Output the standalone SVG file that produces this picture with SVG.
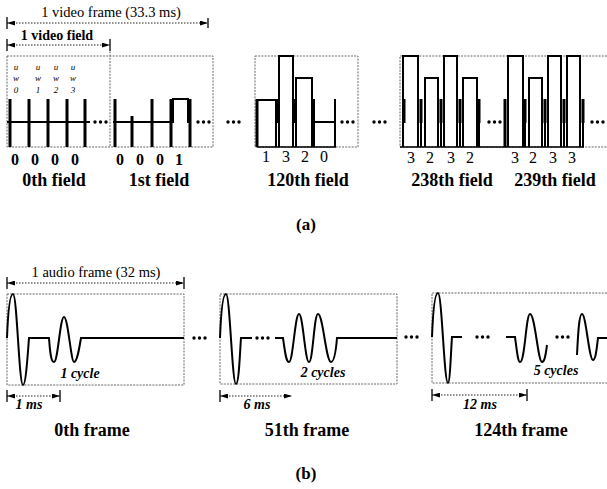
<svg xmlns="http://www.w3.org/2000/svg" xmlns:xlink="http://www.w3.org/1999/xlink" width="607" height="489" viewBox="0 0 607 489">
<style>
.dim{stroke:#222;stroke-width:1;stroke-dasharray:1.5 1.5;fill:none}
.tick{stroke:#000;stroke-width:1.3}
.frame{stroke:#666;stroke-width:1;stroke-dasharray:2 1.2;fill:none}
.wave{stroke:#000;stroke-width:2;fill:none}
.bar{stroke:#000;stroke-width:3}
.base{stroke:#000;stroke-width:1.6}
.t{font-family:"Liberation Serif","Times New Roman",serif;text-anchor:middle;fill:#000}
.lbl{font-weight:bold;font-size:18px}
.dig{font-size:16px}
.digb{font-size:16px;font-weight:bold}
.cap{font-size:14.5px}
.it{font-weight:bold;font-style:italic;font-size:14px}
.sm{font-style:italic;font-size:9px}
</style>
<defs>
<marker id="ah" viewBox="0 0 10 6" refX="10" refY="3" markerWidth="8" markerHeight="5" markerUnits="userSpaceOnUse" orient="auto-start-reverse"><path d="M0,0 L10,3 L0,6z" fill="#000"/></marker>
<g id="dots"><circle cx="0" cy="0" r="1.7"/><circle cx="5.5" cy="0" r="1.7"/><circle cx="11" cy="0" r="1.7"/></g>
</defs>
<rect width="607" height="489" fill="#fff"/>

<!-- ===== (a) video ===== -->
<g id="video-dimensions">
<text class="t cap" x="111" y="17">1 video frame (33.3 ms)</text>
<line class="dim" x1="7" y1="23" x2="208" y2="23" marker-start="url(#ah)" marker-end="url(#ah)"/>
<line class="tick" x1="7" y1="17" x2="7" y2="29"/>
<line class="tick" x1="208" y1="18" x2="208" y2="28"/>
<text class="t" x="57" y="40" font-size="14px" font-weight="bold">1 video field</text>
<line class="dim" x1="7" y1="45" x2="110" y2="45" marker-start="url(#ah)" marker-end="url(#ah)"/>
<line class="tick" x1="7" y1="39" x2="7" y2="51"/>
<line class="tick" x1="110" y1="39" x2="110" y2="51"/>
</g>

<g id="video-frame-1">
<rect class="frame" x="7" y="56" width="206" height="91"/>
<line class="frame" x1="110" y1="45" x2="110" y2="147"/>
</g>

<g id="field-0">
<g class="t sm">
<text x="16" y="70">u</text><text x="38" y="70">u</text><text x="56" y="70">u</text><text x="73" y="70">u</text>
<text x="16" y="81">w</text><text x="38" y="81">w</text><text x="56" y="81">w</text><text x="73" y="81">w</text>
<text x="16" y="93">0</text><text x="38" y="93">1</text><text x="56" y="93">2</text><text x="73" y="93">3</text>
</g>
<line class="wave" x1="7" y1="122" x2="90" y2="122"/>
<line class="bar" x1="10" y1="99" x2="10" y2="147"/>
<line class="bar" x1="29" y1="99" x2="29" y2="147"/>
<line class="bar" x1="48" y1="99" x2="48" y2="147"/>
<line class="bar" x1="67" y1="99" x2="67" y2="147"/>
<line class="bar" x1="85" y1="99" x2="85" y2="147"/>
<use xlink:href="#dots" x="95" y="122"/>
<g class="t digb"><text x="15" y="165">0</text><text x="35" y="165">0</text><text x="55" y="165">0</text><text x="75" y="165">0</text></g>
<text class="t lbl" x="54" y="186">0th field</text>
</g>

<g id="field-1">
<path class="wave" d="M113,122 H173 V99 H188 V122 H190"/>
<line class="bar" x1="115" y1="99" x2="115" y2="147"/>
<line class="bar" x1="132" y1="116" x2="132" y2="147"/>
<line class="bar" x1="152" y1="99" x2="152" y2="147"/>
<line class="bar" x1="171" y1="99" x2="171" y2="147"/>
<line class="bar" x1="190" y1="99" x2="190" y2="147"/>
<use xlink:href="#dots" x="198" y="122"/>
<g class="t digb"><text x="120" y="165">0</text><text x="140" y="165">0</text><text x="160" y="165">0</text><text x="179" y="165">1</text></g>
<text class="t lbl" x="159" y="186">1st field</text>
</g>

<use xlink:href="#dots" x="228" y="122"/>

<g id="field-120">
<rect class="frame" x="255" y="56" width="103" height="91"/>
<line class="base" x1="257" y1="147" x2="336" y2="147"/>
<path class="wave" d="M257,147 V100 H276 V147"/>
<path class="wave" d="M279,147 V56 H293 V147"/>
<path class="wave" d="M296,147 V78 H312 V147"/>
<path class="wave" d="M314,122 H335"/>
<line class="bar" x1="257" y1="99" x2="257" y2="147"/>
<line class="bar" x1="277" y1="99" x2="277" y2="123"/>
<line class="bar" x1="294" y1="99" x2="294" y2="123"/>
<line class="wave" x1="314" y1="99" x2="314" y2="147"/>
<line class="wave" x1="335" y1="99" x2="335" y2="147"/>
<use xlink:href="#dots" x="342" y="122"/>
<g class="t dig"><text x="266" y="162">1</text><text x="286" y="162">3</text><text x="305" y="162">2</text><text x="324" y="162">0</text></g>
<text class="t lbl" x="308" y="186">120th field</text>
</g>

<use xlink:href="#dots" x="374" y="122"/>

<g id="video-frame-2">
<path class="frame" d="M607,56 H400 V147 H607"/>
<line class="base" x1="400" y1="147" x2="584" y2="147"/>
</g>

<g id="field-238">
<path class="wave" d="M403,147 V56 H418 V147"/>
<path class="wave" d="M425,147 V78 H438 V147"/>
<path class="wave" d="M444,147 V56 H457 V147"/>
<path class="wave" d="M463,147 V78 H477 V147"/>
<line class="bar" x1="404" y1="99" x2="404" y2="123"/>
<line class="bar" x1="421" y1="99" x2="421" y2="123"/><line class="wave" x1="421" y1="123" x2="421" y2="147"/>
<line class="bar" x1="441" y1="99" x2="441" y2="123"/><line class="wave" x1="441" y1="123" x2="441" y2="147"/>
<line class="bar" x1="460" y1="99" x2="460" y2="123"/><line class="wave" x1="460" y1="123" x2="460" y2="147"/>
<line class="bar" x1="479" y1="99" x2="479" y2="123"/><line class="wave" x1="479" y1="123" x2="479" y2="147"/>
<use xlink:href="#dots" x="489" y="122"/>
<g class="t dig"><text x="411" y="163">3</text><text x="430" y="163">2</text><text x="451" y="163">3</text><text x="470" y="163">2</text></g>
<text class="t lbl" x="452" y="186">238th field</text>
</g>

<g id="field-239">
<line class="bar" x1="505" y1="99" x2="505" y2="147"/>
<path class="wave" d="M508,147 V56 H523 V147"/>
<path class="wave" d="M529,147 V78 H542 V147"/>
<path class="wave" d="M548,147 V56 H561 V147"/>
<path class="wave" d="M567,147 V56 H580 V147"/>
<line class="bar" x1="525" y1="99" x2="525" y2="123"/><line class="wave" x1="525" y1="123" x2="525" y2="147"/>
<line class="bar" x1="545" y1="99" x2="545" y2="123"/><line class="wave" x1="545" y1="123" x2="545" y2="147"/>
<line class="bar" x1="564" y1="99" x2="564" y2="123"/><line class="wave" x1="564" y1="123" x2="564" y2="147"/>
<line class="bar" x1="583" y1="99" x2="583" y2="123"/><line class="wave" x1="583" y1="123" x2="583" y2="147"/>
<use xlink:href="#dots" x="592" y="122"/>
<g class="t dig"><text x="515" y="163">3</text><text x="533" y="163">2</text><text x="553" y="163">3</text><text x="572" y="163">3</text></g>
<text class="t lbl" x="555" y="186">239th field</text>
</g>

<text class="t" x="306" y="230" font-size="17px" font-weight="bold">(a)</text>

<!-- ===== (b) audio ===== -->
<g id="audio-dimension">
<text class="t cap" x="96" y="277">1 audio frame (32 ms)</text>
<line class="dim" x1="7" y1="283" x2="184" y2="283" marker-start="url(#ah)" marker-end="url(#ah)"/>
<line class="tick" x1="7" y1="277" x2="7" y2="289"/>
<line class="tick" x1="184" y1="277" x2="184" y2="289"/>
</g>

<g id="frame-0">
<rect class="frame" x="7" y="294" width="177" height="91"/>
<path class="wave" d="M7,338 C8,312 10,294 13,294 C17,294 19,385 23,385 C26,385 28,350 29,338 H49 C50,352 51,362 54,362 C58,362 60,317 64,317 C68,317 71,362 74,362 C77,362 79,350 81,338 H184"/>
<text class="t it" x="80" y="378">1 cycle</text>
<line class="dim" x1="7" y1="396" x2="60" y2="396" marker-start="url(#ah)" marker-end="url(#ah)"/>
<line class="tick" x1="7" y1="390" x2="7" y2="402"/>
<line class="tick" x1="60" y1="390" x2="60" y2="402"/>
<text class="t it" x="29" y="409">1 ms</text>
<text class="t lbl" x="92" y="436">0th frame</text>
</g>

<use xlink:href="#dots" x="194" y="338"/>

<g id="frame-51">
<rect class="frame" x="220" y="294" width="177" height="90"/>
<path class="wave" d="M220,338 C221,312 223,294 226,294 C230,294 232,384 236,384 C239,384 240,350 241,338 H252"/>
<use xlink:href="#dots" x="257" y="338"/>
<path class="wave" d="M275,338 H283 C285,352 286,362 289,362 C293,362 295,314 299,314 C303,314 305,362 309,362 C313,362 314,314 318,314 C323,314 326,362 331,362 C334,362 336,350 337,338 H397"/>
<text class="t it" x="323" y="377">2 cycles</text>
<line class="dim" x1="220" y1="396" x2="292" y2="396" marker-start="url(#ah)" marker-end="url(#ah)"/>
<line class="tick" x1="220" y1="390" x2="220" y2="402"/>
<text class="t it" x="257" y="409">6 ms</text>
<text class="t lbl" x="307" y="436">51th frame</text>
</g>

<use xlink:href="#dots" x="406" y="337"/>

<g id="frame-124">
<path class="frame" d="M607,293 H432 V383 H607"/>
<path class="wave" d="M432,337 C433,311 435,293 438,293 C442,293 444,383 448,383 C450,383 451,350 452,337 H462"/>
<use xlink:href="#dots" x="477" y="337"/>
<path class="wave" d="M506,337 H515 C517,352 518,362 520,362 C525,362 526,314 530,314 C535,314 538,362 542,362 C545,362 546,352 547,345"/>
<use xlink:href="#dots" x="557" y="337"/>
<path class="wave" d="M577,355 C578,335 579,314 582,314 C586,314 589,360 593,360 C596,360 597,345 598,338 H607"/>
<text class="t it" x="556" y="375">5 cycles</text>
<line class="dim" x1="432" y1="395" x2="527" y2="395" marker-start="url(#ah)" marker-end="url(#ah)"/>
<line class="tick" x1="432" y1="389" x2="432" y2="401"/>
<line class="tick" x1="527" y1="389" x2="527" y2="401"/>
<text class="t it" x="480" y="409">12 ms</text>
<text class="t lbl" x="521" y="436">124th frame</text>
</g>

<text class="t" x="306" y="479" font-size="17px" font-weight="bold">(b)</text>
</svg>
